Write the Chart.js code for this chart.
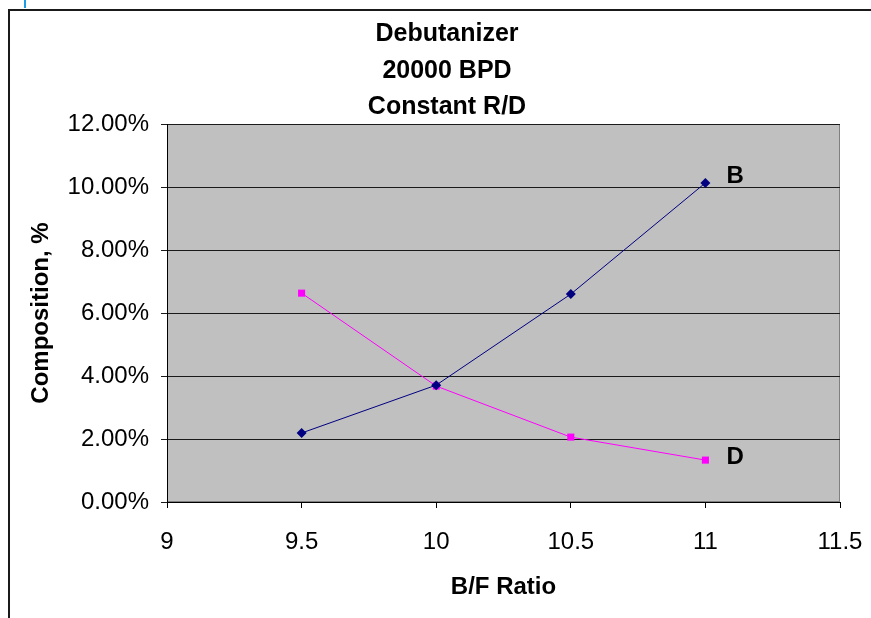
<!DOCTYPE html>
<html>
<head>
<meta charset="utf-8">
<title>Debutanizer 20000 BPD Constant R/D</title>
<script src="https://cdn.jsdelivr.net/npm/chart.js@4.4.1/dist/chart.umd.min.js"></script>
<style>
  html, body { margin: 0; padding: 0; background: #ffffff; }
  canvas { display: block; }
</style>
</head>
<body>
<canvas id="chart" width="871" height="618"></canvas>
<script>
// B/F ratio on the x axis, composition (%) on the y axis
const bfRatio = [9.5, 10, 10.5, 11];
const bottomsB = [2.19, 3.71, 6.60, 10.13];
const distillateD = [6.63, 3.68, 2.06, 1.33];
const xTickValues = [9, 9.5, 10, 10.5, 11, 11.5];
const yTickValues = [0, 2, 4, 6, 8, 10, 12];
const titleLines = ['Debutanizer', '20000 BPD', 'Constant R/D'];
const seriesNames = ['B', 'D'];

const FONT = '"Liberation Sans", Arial, Helvetica, sans-serif';

function toPoints(xs, ys) {
  return xs.map((x, i) => ({ x: x, y: ys[i] }));
}

// Gray plot background, outer frame, title and axis titles
const decorations = {
  id: 'decorations',
  beforeDraw(chart) {
    const { ctx, chartArea: a } = chart;
    ctx.save();
    ctx.fillStyle = '#ffffff';
    ctx.fillRect(0, 0, chart.width, chart.height);
    ctx.fillStyle = '#c0c0c0';
    ctx.fillRect(a.left, a.top, a.right - a.left, a.bottom - a.top);
    ctx.strokeStyle = '#808080';
    ctx.lineWidth = 1;
    ctx.strokeRect(a.left + 0.5, a.top + 0.5, a.right - a.left - 1, a.bottom - a.top - 1);
    ctx.restore();
  },
  afterDraw(chart) {
    const { ctx, chartArea: a } = chart;
    ctx.save();
    // outer frame
    ctx.fillStyle = '#1a1a1a';
    ctx.fillRect(8, 9, 2, chart.height - 9);
    ctx.fillRect(8, 9, chart.width - 8, 2);
    ctx.fillStyle = '#1e9de6';
    ctx.fillRect(24, 0, 2, 8);

    // title
    ctx.fillStyle = '#000000';
    ctx.font = 'bold 25px ' + FONT;
    ctx.textAlign = 'center';
    ctx.textBaseline = 'alphabetic';
    titleLines.forEach((t, i) => ctx.fillText(t, 447, 41 + i * 36.5));

    // axis titles
    ctx.font = 'bold 24px ' + FONT;
    ctx.textBaseline = 'middle';
    ctx.fillText('B/F Ratio', (a.left + a.right) / 2, 587);
    ctx.save();
    ctx.translate(41, (a.top + a.bottom) / 2);
    ctx.rotate(-Math.PI / 2);
    ctx.fillText('Composition, %', 0, 0);
    ctx.restore();

    // series name next to the last point of each line
    ctx.textAlign = 'left';
    const offsets = [-7, -3];
    chart.data.datasets.forEach((ds, i) => {
      const meta = chart.getDatasetMeta(i);
      const last = meta.data[meta.data.length - 1];
      ctx.fillText(seriesNames[i], last.x + 21, last.y + offsets[i]);
    });
    ctx.restore();
  }
};

new Chart(document.getElementById('chart'), {
  type: 'line',
  data: {
    datasets: [
      {
        label: seriesNames[0],
        data: toPoints(bfRatio, bottomsB),
        borderColor: '#000080',
        backgroundColor: '#000080',
        borderWidth: 1,
        pointStyle: 'rectRot',
        pointRadius: 5,
        pointBorderWidth: 0,
        tension: 0
      },
      {
        label: seriesNames[1],
        data: toPoints(bfRatio, distillateD),
        borderColor: '#ff00ff',
        backgroundColor: '#ff00ff',
        borderWidth: 1,
        pointStyle: 'rect',
        pointRadius: 5,
        pointBorderWidth: 0,
        tension: 0
      }
    ]
  },
  options: {
    responsive: false,
    animation: false,
    devicePixelRatio: 1,
    layout: { padding: { top: 124, right: 31, bottom: 0, left: 0 } },
    plugins: {
      legend: { display: false },
      title: { display: false },
      tooltip: { enabled: false }
    },
    scales: {
      x: {
        type: 'linear',
        min: xTickValues[0],
        max: xTickValues[xTickValues.length - 1],
        afterBuildTicks(scale) {
          scale.ticks = xTickValues.map(v => ({ value: v }));
        },
        afterFit(scale) {
          scale.height = 116;
          scale.paddingLeft = 0;
          scale.paddingRight = 0;
        },
        ticks: {
          color: '#000000',
          font: { family: FONT, size: 24 },
          padding: 20,
          maxRotation: 0,
          autoSkip: false,
          callback: v => String(v)
        },
        grid: {
          drawOnChartArea: false,
          drawTicks: true,
          tickLength: 6,
          color: '#000000'
        },
        border: { display: true, color: '#000000', width: 1 }
      },
      y: {
        type: 'linear',
        min: yTickValues[0],
        max: yTickValues[yTickValues.length - 1],
        afterBuildTicks(scale) {
          scale.ticks = yTickValues.map(v => ({ value: v }));
        },
        afterFit(scale) {
          scale.width = 167;
          scale.paddingTop = 0;
          scale.paddingBottom = 0;
        },
        ticks: {
          color: '#000000',
          font: { family: FONT, size: 24 },
          padding: 12,
          autoSkip: false,
          callback: v => v.toFixed(2) + '%'
        },
        grid: {
          drawTicks: true,
          tickLength: 6,
          color: '#1a1a1a',
          lineWidth: 1
        },
        border: { display: true, color: '#000000', width: 1 }
      }
    }
  },
  plugins: [decorations]
});
</script>
</body>
</html>
